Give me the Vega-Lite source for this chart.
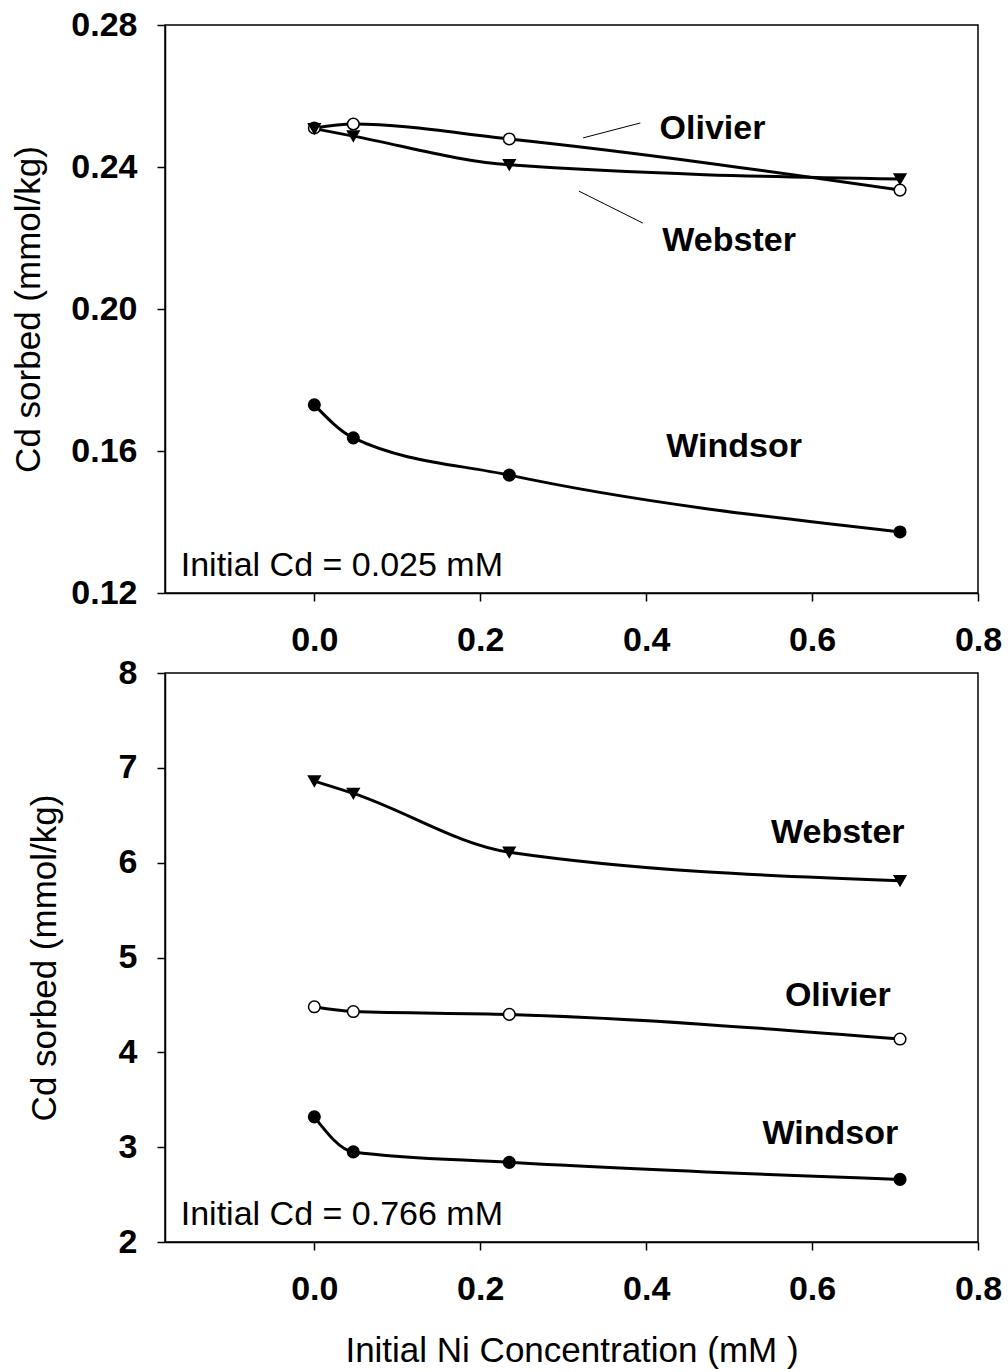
{
  "$schema": "https://vega.github.io/schema/vega-lite/v6.json",
  "background": "white",
  "padding": {"left": 11, "top": 7, "right": 20, "bottom": 5},
  "spacing": -3,
  "datasets": {
    "top": [
      {"soil": "Olivier", "ni": 0, "cd": 0.251},
      {"soil": "Olivier", "ni": 0.047, "cd": 0.2521},
      {"soil": "Olivier", "ni": 0.235, "cd": 0.2479},
      {"soil": "Olivier", "ni": 0.706, "cd": 0.2335},
      {"soil": "Webster", "ni": 0, "cd": 0.2508},
      {"soil": "Webster", "ni": 0.047, "cd": 0.2487},
      {"soil": "Webster", "ni": 0.235, "cd": 0.2406},
      {"soil": "Webster", "ni": 0.706, "cd": 0.2366},
      {"soil": "Windsor", "ni": 0, "cd": 0.173},
      {"soil": "Windsor", "ni": 0.047, "cd": 0.1637},
      {"soil": "Windsor", "ni": 0.235, "cd": 0.1532},
      {"soil": "Windsor", "ni": 0.706, "cd": 0.1372}
    ],
    "bottom": [
      {"soil": "Olivier", "ni": 0, "cd": 4.48},
      {"soil": "Olivier", "ni": 0.047, "cd": 4.43},
      {"soil": "Olivier", "ni": 0.235, "cd": 4.40},
      {"soil": "Olivier", "ni": 0.706, "cd": 4.14},
      {"soil": "Webster", "ni": 0, "cd": 6.86},
      {"soil": "Webster", "ni": 0.047, "cd": 6.73},
      {"soil": "Webster", "ni": 0.235, "cd": 6.11},
      {"soil": "Webster", "ni": 0.706, "cd": 5.81},
      {"soil": "Windsor", "ni": 0, "cd": 3.32},
      {"soil": "Windsor", "ni": 0.047, "cd": 2.95},
      {"soil": "Windsor", "ni": 0.235, "cd": 2.84},
      {"soil": "Windsor", "ni": 0.706, "cd": 2.66}
    ],
    "topLabels": [
      {"label": "Olivier", "x": 0.48, "y": 0.2507},
      {"label": "Webster", "x": 0.50, "y": 0.2192},
      {"label": "Windsor", "x": 0.506, "y": 0.1611}
    ],
    "bottomLabels": [
      {"label": "Webster", "x": 0.631, "y": 6.31},
      {"label": "Olivier", "x": 0.631, "y": 4.59},
      {"label": "Windsor", "x": 0.622, "y": 3.14}
    ],
    "topNote": [{"label": "Initial Cd = 0.025 mM", "x": -0.161, "y": 0.1276}],
    "bottomNote": [{"label": "Initial Cd = 0.766 mM", "x": -0.161, "y": 2.28}],
    "leaders": [
      {"x": 0.324, "y": 0.2482, "x2": 0.393, "y2": 0.2524},
      {"x": 0.319, "y": 0.2332, "x2": 0.396, "y2": 0.2242}
    ]
  },
  "config": {
    "font": "Liberation Sans",
    "view": {"stroke": "black", "strokeWidth": 1.5},
    "axis": {
      "grid": false,
      "domainColor": "black",
      "domainWidth": 1.5,
      "tickColor": "black",
      "tickWidth": 1.5,
      "tickSize": 8,
      "labelFont": "Liberation Sans",
      "labelFontSize": 34,
      "labelFontWeight": "bold",
      "labelColor": "black",
      "titleFont": "Liberation Sans",
      "titleFontSize": 35,
      "titleFontWeight": "normal",
      "titleColor": "black"
    }
  },
  "vconcat": [
    {
      "width": 813,
      "height": 568,
      "layer": [
        {
          "data": {"name": "top"},
          "mark": {"type": "line", "interpolate": "monotone", "color": "black", "strokeWidth": 3},
          "encoding": {
            "x": {"field": "ni", "type": "quantitative", "scale": {"domain": [-0.18, 0.8], "nice": false, "zero": false},
                  "axis": {"values": [0, 0.2, 0.4, 0.6, 0.8], "format": ".1f", "title": null, "labelPadding": 22, "labelFlush": false}},
            "y": {"field": "cd", "type": "quantitative", "scale": {"domain": [0.12, 0.28], "nice": false, "zero": false},
                  "axis": {"values": [0.12, 0.16, 0.2, 0.24, 0.28], "format": ".2f", "title": "Cd sorbed (mmol/kg)", "labelPadding": 20, "titlePadding": 24}},
            "detail": {"field": "soil"}
          }
        },
        {
          "data": {"name": "top"},
          "mark": {"type": "point", "filled": false, "stroke": "black", "strokeWidth": 1.5, "opacity": 1},
          "encoding": {
            "x": {"field": "ni", "type": "quantitative"},
            "y": {"field": "cd", "type": "quantitative"},
            "shape": {"field": "soil", "type": "nominal", "scale": {"domain": ["Olivier", "Webster", "Windsor"], "range": ["circle", "triangle-down", "circle"]}, "legend": null},
            "fill": {"field": "soil", "type": "nominal", "scale": {"domain": ["Olivier", "Webster", "Windsor"], "range": ["white", "black", "black"]}, "legend": null},
            "size": {"value": 135}
          }
        },
        {
          "data": {"name": "leaders"},
          "mark": {"type": "rule", "color": "black", "strokeWidth": 1},
          "encoding": {
            "x": {"field": "x", "type": "quantitative"},
            "y": {"field": "y", "type": "quantitative"},
            "x2": {"field": "x2"},
            "y2": {"field": "y2"}
          }
        },
        {
          "data": {"name": "topLabels"},
          "mark": {"type": "text", "fontSize": 34, "fontWeight": "bold", "align": "center", "baseline": "middle", "color": "black"},
          "encoding": {
            "x": {"field": "x", "type": "quantitative"},
            "y": {"field": "y", "type": "quantitative"},
            "text": {"field": "label"}
          }
        },
        {
          "data": {"name": "topNote"},
          "mark": {"type": "text", "fontSize": 34, "fontWeight": "normal", "align": "left", "baseline": "middle", "color": "black"},
          "encoding": {
            "x": {"field": "x", "type": "quantitative"},
            "y": {"field": "y", "type": "quantitative"},
            "text": {"field": "label"}
          }
        }
      ]
    },
    {
      "width": 813,
      "height": 569,
      "layer": [
        {
          "data": {"name": "bottom"},
          "mark": {"type": "line", "interpolate": "monotone", "color": "black", "strokeWidth": 3},
          "encoding": {
            "x": {"field": "ni", "type": "quantitative", "scale": {"domain": [-0.18, 0.8], "nice": false, "zero": false},
                  "axis": {"values": [0, 0.2, 0.4, 0.6, 0.8], "format": ".1f", "title": "Initial Ni Concentration (mM )", "labelPadding": 22, "titlePadding": 27, "labelFlush": false}},
            "y": {"field": "cd", "type": "quantitative", "scale": {"domain": [2, 8], "nice": false, "zero": false},
                  "axis": {"values": [2, 3, 4, 5, 6, 7, 8], "format": "d", "title": "Cd sorbed (mmol/kg)", "labelPadding": 20, "titlePadding": 56}},
            "detail": {"field": "soil"}
          }
        },
        {
          "data": {"name": "bottom"},
          "mark": {"type": "point", "filled": false, "stroke": "black", "strokeWidth": 1.5, "opacity": 1},
          "encoding": {
            "x": {"field": "ni", "type": "quantitative"},
            "y": {"field": "cd", "type": "quantitative"},
            "shape": {"field": "soil", "type": "nominal", "scale": {"domain": ["Olivier", "Webster", "Windsor"], "range": ["circle", "triangle-down", "circle"]}, "legend": null},
            "fill": {"field": "soil", "type": "nominal", "scale": {"domain": ["Olivier", "Webster", "Windsor"], "range": ["white", "black", "black"]}, "legend": null},
            "size": {"value": 135}
          }
        },
        {
          "data": {"name": "bottomLabels"},
          "mark": {"type": "text", "fontSize": 34, "fontWeight": "bold", "align": "center", "baseline": "middle", "color": "black"},
          "encoding": {
            "x": {"field": "x", "type": "quantitative"},
            "y": {"field": "y", "type": "quantitative"},
            "text": {"field": "label"}
          }
        },
        {
          "data": {"name": "bottomNote"},
          "mark": {"type": "text", "fontSize": 34, "fontWeight": "normal", "align": "left", "baseline": "middle", "color": "black"},
          "encoding": {
            "x": {"field": "x", "type": "quantitative"},
            "y": {"field": "y", "type": "quantitative"},
            "text": {"field": "label"}
          }
        }
      ]
    }
  ]
}
